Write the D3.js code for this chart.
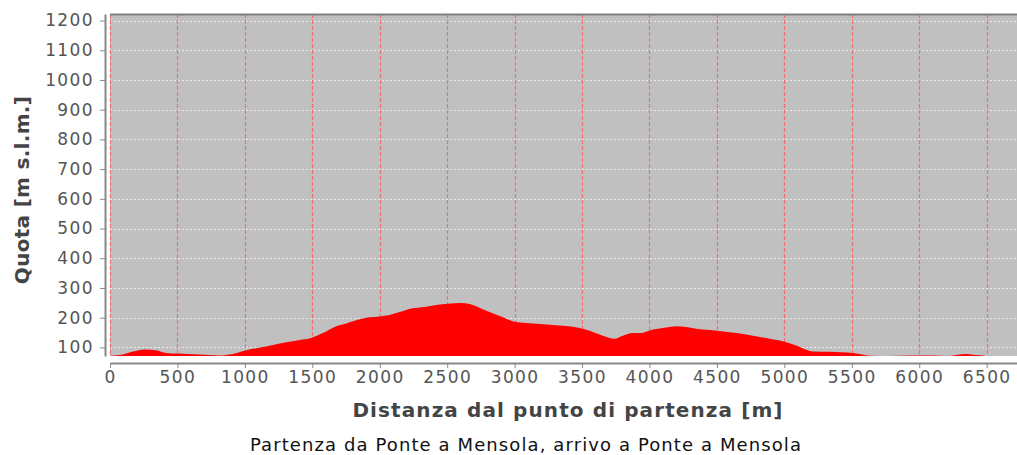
<!DOCTYPE html>
<html>
<head>
<meta charset="utf-8">
<script src="https://cdn.jsdelivr.net/npm/d3@7"></script>
<style>
  body { margin: 0; background: #fff; }
  svg { display: block; font-family: "DejaVu Sans", sans-serif; }
</style>
</head>
<body>
<div id="chart"></div>
<script>
// Distance from start [m] and altitude [m s.l.m.]
var distances = [0, 70, 170, 256, 342, 417, 503, 664, 812, 911, 997, 1158, 1306, 1405, 1492,
                 1578, 1665, 1751, 1838, 1924, 1999, 2073, 2147, 2234, 2332, 2419, 2505, 2604,
                 2666, 2790, 2913, 3000, 3086, 3284, 3482, 3556, 3655, 3741, 3803, 3877, 3939,
                 4001, 4099, 4199, 4273, 4359, 4483, 4644, 4767, 4891, 5002, 5088, 5163, 5212,
                 5336, 5508, 5558, 5632, 5780, 5953, 6102, 6201, 6349, 6398, 6485];
var altitudes = [72, 74, 86, 93, 90, 81, 79, 76, 73, 78, 89, 103, 117, 125, 132,
                 148, 169, 180, 193, 201, 204, 209, 219, 231, 236, 243, 247, 249,
                 246, 223, 201, 186, 182, 175, 165, 156, 139, 129, 139, 148, 148,
                 157, 165, 171, 169, 162, 157, 148, 139, 129, 119, 106, 92, 86,
                 85, 81, 78, 72, 71, 73, 73, 71, 78, 75, 73];

var xTicks = d3.range(0, 6501, 500);
var yTicks = d3.range(100, 1201, 100);

var xLabel = "Distanza dal punto di partenza [m]",
    yLabel = "Quota [m s.l.m.]",
    subtitle = "Partenza da Ponte a Mensola, arrivo a Ponte a Mensola";

var data = distances.map(function(d, i) { return {dist: d, alt: altitudes[i]}; });

var W = 1017, H = 455;
var plot = {left: 110, top: 14, right: 1017, bottom: 356};

var svg = d3.select("#chart").append("svg")
    .attr("width", W)
    .attr("height", H);

var x = d3.scaleLinear()
    .domain([0, 6725])
    .range([plot.left, plot.right]);

var y = d3.scaleLinear()
    .domain([71, 1222])
    .range([plot.bottom, plot.top]);

// plot background
svg.append("rect")
    .attr("x", plot.left)
    .attr("y", plot.top)
    .attr("width", plot.right - plot.left)
    .attr("height", plot.bottom - plot.top)
    .attr("fill", "#c0c0c0");

// horizontal grid
svg.append("g").selectAll("line")
    .data(yTicks)
  .enter().append("line")
    .attr("x1", plot.left)
    .attr("x2", plot.right)
    .attr("y1", function(d) { return Math.round(y(d)) + 0.5; })
    .attr("y2", function(d) { return Math.round(y(d)) + 0.5; })
    .attr("stroke", "#ececec")
    .attr("stroke-dasharray", "2,2");

// vertical grid
svg.append("g").selectAll("line")
    .data(xTicks)
  .enter().append("line")
    .attr("x1", function(d) { return Math.round(x(d)) + 0.5; })
    .attr("x2", function(d) { return Math.round(x(d)) + 0.5; })
    .attr("y1", plot.top)
    .attr("y2", plot.bottom)
    .attr("stroke", "#ee7070")
    .attr("stroke-width", 1.2)
    .attr("stroke-dasharray", "4,2");

// elevation profile
var area = d3.area()
    .curve(d3.curveMonotoneX)
    .x(function(d) { return x(d.dist); })
    .y0(plot.bottom)
    .y1(function(d) { return y(d.alt); });

svg.append("path")
    .datum(data)
    .attr("fill", "#ff0000")
    .attr("d", area);

// top border
svg.append("line")
    .attr("x1", plot.left).attr("x2", plot.right)
    .attr("y1", plot.top + 0.5).attr("y2", plot.top + 0.5)
    .attr("stroke", "#808080").attr("stroke-width", 2);

// y axis
var yAxis = svg.append("g")
    .attr("transform", "translate(105,0)")
    .call(d3.axisLeft(y).tickValues(yTicks).tickFormat(d3.format("d"))
        .tickSize(5).tickPadding(6).tickSizeOuter(0));

// x axis
var xAxis = svg.append("g")
    .attr("transform", "translate(0,363)")
    .call(d3.axisBottom(x).tickValues(xTicks).tickFormat(d3.format("d"))
        .tickSize(5).tickPadding(3).tickSizeOuter(0));

[yAxis, xAxis].forEach(function(a) {
  a.select(".domain").attr("stroke", "#888").attr("stroke-width", 2);
  a.selectAll(".tick line").attr("stroke", "#888");
  a.selectAll("text")
      .attr("fill", "#555")
      .style("font-size", "17px")
      .style("letter-spacing", "1.4px")
      .style("font-family", "DejaVu Sans");
});

// axis titles
svg.append("text")
    .attr("transform", "translate(29,190) rotate(-90)")
    .attr("text-anchor", "middle")
    .attr("fill", "#444")
    .style("font-size", "20px")
    .style("letter-spacing", "0.3px")
    .style("font-weight", "bold")
    .text(yLabel);

svg.append("text")
    .attr("x", 568)
    .attr("y", 417)
    .attr("text-anchor", "middle")
    .attr("fill", "#444")
    .style("font-size", "20px")
    .style("letter-spacing", "1.1px")
    .style("font-weight", "bold")
    .text(xLabel);

svg.append("text")
    .attr("x", 526)
    .attr("y", 451)
    .attr("text-anchor", "middle")
    .attr("fill", "#111")
    .style("font-size", "18px")
    .style("letter-spacing", "1.1px")
    .text(subtitle);
</script>
</body>
</html>
